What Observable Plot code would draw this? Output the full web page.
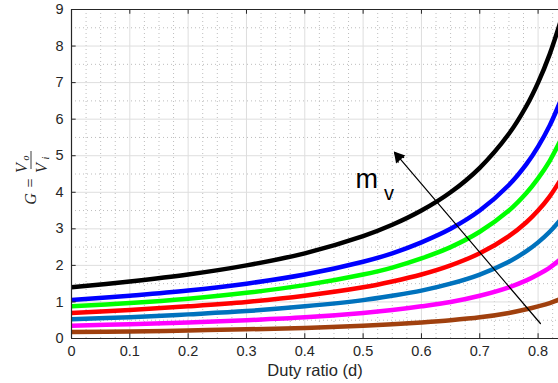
<!DOCTYPE html>
<html>
<head>
<meta charset="utf-8">
<script src="https://cdn.jsdelivr.net/npm/d3@7"></script>
<script src="https://cdn.jsdelivr.net/npm/@observablehq/plot@0.6"></script>
<style>
  html, body { margin: 0; padding: 0; background: #fff; overflow: hidden; }
  #chart svg { display: block; overflow: hidden; }
</style>
</head>
<body>
<div id="chart"></div>
<script>
// Duty ratio sample points
const duty = [0, 0.1, 0.2, 0.3, 0.4, 0.5, 0.55, 0.6, 0.65, 0.7, 0.75, 0.78, 0.8, 0.82, 0.84];
// Gain curves (top curve first)
const gBlack   = [1.40, 1.56, 1.75, 2.00, 2.33, 2.80, 3.11, 3.50, 4.00, 4.67, 5.60, 6.36, 7.00, 7.78, 8.75];
const gBlue    = [1.05, 1.17, 1.31, 1.50, 1.75, 2.10, 2.33, 2.63, 3.00, 3.50, 4.20, 4.77, 5.25, 5.83, 6.56];
const gGreen   = [0.88, 0.97, 1.09, 1.25, 1.46, 1.75, 1.94, 2.19, 2.50, 2.92, 3.50, 3.98, 4.38, 4.86, 5.47];
const gRed     = [0.70, 0.78, 0.88, 1.00, 1.17, 1.40, 1.56, 1.75, 2.00, 2.33, 2.80, 3.18, 3.50, 3.89, 4.38];
const gSteel   = [0.53, 0.58, 0.66, 0.75, 0.88, 1.05, 1.17, 1.31, 1.50, 1.75, 2.10, 2.39, 2.63, 2.92, 3.28];
const gMagenta = [0.35, 0.39, 0.44, 0.50, 0.58, 0.70, 0.78, 0.88, 1.00, 1.17, 1.40, 1.59, 1.75, 1.94, 2.19];
const gBrown   = [0.18, 0.19, 0.22, 0.25, 0.29, 0.35, 0.39, 0.44, 0.50, 0.58, 0.70, 0.80, 0.88, 0.97, 1.09];

const seriesNames  = ["black", "blue", "green", "red", "steel", "magenta", "brown"];
const seriesColors = ["#000000", "#0000ff", "#00ff00", "#ff0000", "#0072bd", "#ff00ff", "#a0400e"];
const seriesValues = [gBlack, gBlue, gGreen, gRed, gSteel, gMagenta, gBrown];

// Ticks
const xTicks = [0, 0.1, 0.2, 0.3, 0.4, 0.5, 0.6, 0.7, 0.8];
const xTickLabels = ["0", "0.1", "0.2", "0.3", "0.4", "0.5", "0.6", "0.7", "0.8"];
const yTicks = [0, 1, 2, 3, 4, 5, 6, 7, 8, 9];
const xMinor = [0.025, 0.05, 0.075, 0.125, 0.15, 0.175, 0.225, 0.25, 0.275, 0.325, 0.35, 0.375,
                0.425, 0.45, 0.475, 0.525, 0.55, 0.575, 0.625, 0.65, 0.675, 0.725, 0.75, 0.775, 0.825];
const yMinor = [0.5, 1.5, 2.5, 3.5, 4.5, 5.5, 6.5, 7.5, 8.5];

// Annotation (m_v arrow)
const arrowData = [{x1: 0.804, y1: 0.41, x2: 0.554, y2: 5.09}];
const arrowHead = [{x: 0.5605, y: 4.97}];
const mLabel = [{x: 0.487, y: 4.13, t: "m"}];
const vLabel = [{x: 0.536, y: 3.78, t: "v"}];

const rows = [];
seriesNames.forEach((name, i) => {
  duty.forEach((d, j) => rows.push({name, d, g: seriesValues[i][j]}));
});

const axisColor = "#262626";
const tickFont = "Liberation Sans, Arial, sans-serif";

const plot = Plot.plot({
  width: 558,
  height: 383,
  marginLeft: 71,
  marginRight: 0,
  marginTop: 9,
  marginBottom: 45,
  style: {fontFamily: tickFont, background: "#fff"},
  x: {domain: [0, 0.835]},
  y: {domain: [0, 9]},
  color: {domain: seriesNames, range: seriesColors},
  marks: [
    // minor grid (dotted)
    Plot.ruleX(xMinor, {x: d => d, stroke: "#bdbdbd", strokeWidth: 1, strokeDasharray: "1,3"}),
    Plot.ruleY(yMinor, {y: d => d, stroke: "#bdbdbd", strokeWidth: 1, strokeDasharray: "1,3"}),
    // major grid
    Plot.ruleX(xTicks, {x: d => d, stroke: "#dedede", strokeWidth: 1}),
    Plot.ruleY(yTicks, {y: d => d, stroke: "#dedede", strokeWidth: 1}),
    // curves
    Plot.line(rows, {x: "d", y: "g", z: "name", stroke: "name", strokeWidth: 4.5, curve: "catmull-rom", clip: true}),
    // frame lines
    Plot.ruleY([0, 9], {y: d => d, stroke: axisColor, strokeWidth: 1.2}),
    Plot.ruleX([0], {x: d => d, stroke: axisColor, strokeWidth: 1.2}),
    // inward tick marks
    Plot.ruleX(xTicks, {x: d => d, y1: 0, y2: 0.13, stroke: axisColor}),
    Plot.ruleX(xTicks, {x: d => d, y1: 9, y2: 8.87, stroke: axisColor}),
    Plot.ruleY(yTicks, {y: d => d, x1: 0, x2: 0.008, stroke: axisColor}),
    // tick labels
    Plot.axisX({ticks: xTicks, tickFormat: (d, i) => xTickLabels[i], tickSize: 0, tickPadding: 7, fontSize: 14.5, fill: axisColor, label: null}),
    Plot.axisY({ticks: yTicks, tickFormat: d => String(d), tickSize: 0, tickPadding: 8, fontSize: 14.5, fill: axisColor, label: null}),
    // x label
    Plot.text(["Duty ratio (d)"], {frameAnchor: "bottom", dy: 32, fontSize: 16.5, fill: axisColor, lineAnchor: "middle"}),
    // annotation
    Plot.arrow(arrowData, {x1: "x1", y1: "y1", x2: "x2", y2: "y2", stroke: "#000", strokeWidth: 1.2, headLength: 13, headAngle: 40}),
    Plot.dot(arrowHead, {x: "x", y: "y", symbol: "triangle", r: 4.5, fill: "#000", stroke: "none", rotate: -40.5}),
    Plot.text(mLabel, {x: "x", y: "y", text: "t", fontSize: 27, textAnchor: "start", lineAnchor: "bottom", fill: "#000"}),
    Plot.text(vLabel, {x: "x", y: "y", text: "t", fontSize: 20, textAnchor: "start", lineAnchor: "bottom", fill: "#000"})
  ]
});

document.getElementById("chart").appendChild(plot);

// Y axis label: G = Vo / Vi (rotated)
const ns = "http://www.w3.org/2000/svg";
const g = document.createElementNS(ns, "g");
g.setAttribute("transform", "translate(31,175) rotate(-90)");
g.setAttribute("font-family", "Liberation Serif, Times New Roman, serif");
g.setAttribute("fill", axisColor);
function addText(str, x, y, size, italic, anchor) {
  const t = document.createElementNS(ns, "text");
  t.setAttribute("x", x); t.setAttribute("y", y);
  t.setAttribute("font-size", size);
  if (italic) t.setAttribute("font-style", "italic");
  if (anchor) t.setAttribute("text-anchor", anchor);
  t.textContent = str;
  g.appendChild(t);
  return t;
}
addText("G", -24, 5, 16, true);
addText("=", -8, 5, 16, false);
addText("V", 7, -4, 16, true);
addText("o", 17, -2, 10, true);
addText("V", 7, 16, 16, true);
addText("i", 17, 18, 10, true);
const bar = document.createElementNS(ns, "line");
bar.setAttribute("x1", 6); bar.setAttribute("x2", 24);
bar.setAttribute("y1", 0); bar.setAttribute("y2", 0);
bar.setAttribute("stroke", axisColor); bar.setAttribute("stroke-width", 0.9);
g.appendChild(bar);
plot.appendChild(g);
</script>
</body>
</html>
